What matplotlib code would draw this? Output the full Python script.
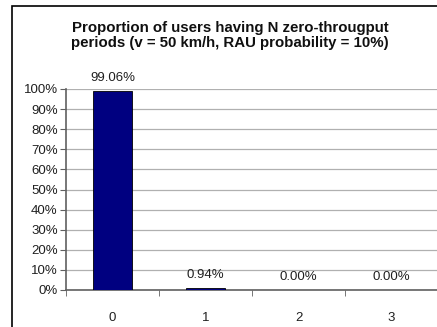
import matplotlib
matplotlib.use("Agg")
import matplotlib.pyplot as plt
from matplotlib.patches import Rectangle
from matplotlib.ticker import FuncFormatter

categories = ["0", "1", "2", "3"]
proportions = [99.06, 0.94, 0.00, 0.00]
value_labels = ["99.06%", "0.94%", "0.00%", "0.00%"]
y_ticks = [0, 10, 20, 30, 40, 50, 60, 70, 80, 90, 100]

plt.rcParams['font.family'] = ['Liberation Sans', 'DejaVu Sans']

fig = plt.figure(figsize=(4.37, 3.27), dpi=100)
ax = fig.add_axes([66/437, 1-290/327, 372/437, 201/327])

# chart frame
fig.patches.append(Rectangle((12/437, -0.1), 1.2, 1-6/327+0.1, transform=fig.transFigure,
                             fill=False, edgecolor='black', linewidth=1.2))

x = list(range(len(categories)))
ax.bar(x, proportions, width=0.41, color='#000080', edgecolor='black', linewidth=0.6, zorder=3)
for xi, v, lab in zip(x, proportions, value_labels):
    ax.text(xi, v + 3.5, lab, ha='center', va='bottom', fontsize=9.5, color='#202020')

ax.set_xlim(-0.5, 3.5)
ax.set_ylim(0, 100)
ax.set_yticks(y_ticks)
ax.yaxis.set_major_formatter(FuncFormatter(lambda v, p: f"{int(v)}%"))
ax.set_xticks(x)
ax.set_xticklabels(categories)
ax.set_xticks([-0.5, 0.5, 1.5, 2.5], minor=True)
ax.tick_params(axis='x', which='major', length=0, pad=16, labelsize=9.5, labelcolor='#202020')
ax.tick_params(axis='x', which='minor', length=4, color='#606060', direction='out')
ax.tick_params(axis='y', length=4, color='#606060', labelsize=9.5, pad=2, labelcolor='#202020')

ax.grid(axis='y', color='#b0b0b0', linewidth=0.9, linestyle='-', zorder=0)
for s in ['top', 'right']:
    ax.spines[s].set_visible(False)
for s in ['left', 'bottom']:
    ax.spines[s].set_color('#606060')
    ax.spines[s].set_linewidth(1.2)

fig.text(230/437, 1-21/327, "Proportion of users having N zero-througput\nperiods (v = 50 km/h, RAU probability = 10%)",
         ha='center', va='top', fontsize=10.8, fontweight='bold', linespacing=1.05, color='#101010')

fig.savefig("out.png", dpi=100)
